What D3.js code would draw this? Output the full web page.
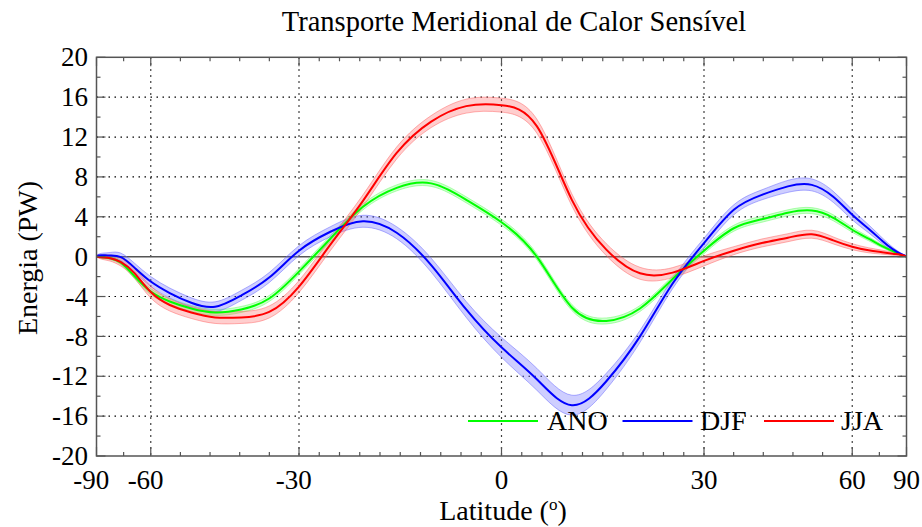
<!DOCTYPE html>
<html><head><meta charset="utf-8">
<script src="https://cdn.jsdelivr.net/npm/d3@7"></script>
<style>
body{margin:0;background:#fff}
svg{display:block}
</style>
</head><body>
<svg id="c" width="922" height="527" font-family="'Liberation Serif', 'Times New Roman', 'DejaVu Serif', serif"></svg>
<script>
// ---------------- data ----------------
const lats = [-90,-85,-80,-75,-70,-65,-60,-55,-50,-45,-40,-35,-30,-25,-20,-15,-10,-5,0,5,10,15,20,25,30,35,40,45,50,55,60,65,70,75,80,85,90];
const ano = [0,-0.02,-0.05,-0.15,-0.6,-1.95,-3.5,-4.5,-5.2,-5.6,-5.3,-4.2,-1.5,1.8,5.0,6.9,7.35,5.7,3.45,0,-5.1,-6.45,-5.2,-2.25,0.6,2.85,3.75,4.4,4.62,3.9,2.7,1.8,1.05,0.55,0.2,0.06,0];
const djf = [0,0.12,0.15,0.12,-0.05,-1.1,-2.5,-3.65,-4.63,-5.03,-3.9,-2.1,0.6,2.5,3.55,2.4,-0.85,-5.3,-9.1,-12.3,-14.9,-12.5,-8.0,-2.7,1.35,4.7,6.2,7.05,7.2,6.0,4.2,2.8,1.6,0.75,0.3,0.1,0];
const jja = [0,-0.02,-0.08,-0.15,-0.55,-1.65,-3.55,-4.85,-5.6,-6.1,-6.1,-5.55,-3.0,1.2,5.6,10.4,13.55,15.1,15.2,13.1,5.7,0.7,-1.67,-1.6,-0.43,0.6,1.37,1.9,2.25,1.63,1.0,0.64,0.45,0.3,0.2,0.08,0];
const anoErr = [0,0.05,0.1,0.15,0.2,0.25,0.3,0.3,0.3,0.3,0.3,0.3,0.3,0.3,0.3,0.3,0.3,0.3,0.3,0.3,0.3,0.3,0.3,0.3,0.3,0.3,0.3,0.3,0.3,0.3,0.25,0.2,0.15,0.1,0.05,0.03,0];
const djfErr = [0,0.1,0.2,0.3,0.4,0.45,0.5,0.5,0.5,0.5,0.5,0.5,0.5,0.5,0.6,0.6,0.7,0.8,1.0,1.1,1.0,0.8,0.6,0.5,0.5,0.5,0.5,0.6,0.6,0.55,0.5,0.4,0.3,0.2,0.1,0.05,0];
const jjaErr = [0,0.1,0.2,0.3,0.4,0.5,0.6,0.6,0.6,0.6,0.6,0.6,0.6,0.6,0.6,0.6,0.6,0.7,0.7,0.7,0.6,0.6,0.6,0.5,0.5,0.4,0.4,0.4,0.4,0.35,0.3,0.25,0.2,0.15,0.1,0.05,0];
const seriesNames = ["ANO","DJF","JJA"];
const seriesColors = ["#00ff00","#0000ff","#ff0000"];
const bandColors = ["#66ff66","#6666ff","#ff6666"];
const xMajor = [-90,-60,-30,0,30,60,90];
const xMinorDiv = [2,5,10,10,5,2];
const xLabels = ["-90","-60","-30","0","30","60","90"];
const yMajor = [-20,-16,-12,-8,-4,0,4,8,12,16,20];
const yMinor = [-18,-14,-10,-6,-2,2,6,10,14,18];
const yGrid = [-16,-12,-8,-4,4,8,12,16];
const xGrid = [-60,-30,0,30,60];
const titleText = "Transporte Meridional de Calor Sensível";

// ---------------- layout ----------------
const FF = "'Liberation Serif', 'Times New Roman', 'DejaVu Serif', serif";
const L=96.5, R=906.5, T=57.3, B=456;
const svg = d3.select("#c");
const sx = d3.scaleLinear().domain([-1,1]).range([L,R]);
const x = lat => sx(Math.sin(lat*Math.PI/180));
const y = d3.scaleLinear().domain([-20,20]).range([B,T]);

svg.append("rect").attr("width",922).attr("height",527).attr("fill","#fff");
svg.append("clipPath").attr("id","clip").append("rect")
  .attr("x",L).attr("y",T).attr("width",R-L).attr("height",B-T);

// grid
const g = svg.append("g");
g.selectAll(".gx").data(xGrid).join("line")
  .attr("x1",d=>x(d)).attr("x2",d=>x(d)).attr("y1",T).attr("y2",B)
  .attr("stroke","#000").attr("stroke-width",1.2).attr("stroke-dasharray","1.5,4.5");
g.selectAll(".gy").data(yGrid).join("line")
  .attr("x1",L).attr("x2",R).attr("y1",d=>y(d)).attr("y2",d=>y(d))
  .attr("stroke","#000").attr("stroke-width",1.2).attr("stroke-dasharray","1.5,4.5");
g.append("line").attr("x1",L).attr("x2",R).attr("y1",y(0)).attr("y2",y(0))
  .attr("stroke","#555").attr("stroke-width",1.5);

// series
const all = [ano,djf,jja], errs=[anoErr,djfErr,jjaErr];
const plot = svg.append("g").attr("clip-path","url(#clip)");
const curve = d3.curveNatural;
all.forEach((vals,i)=>{
  const pts = lats.map((lat,j)=>({lat,v:vals[j],e:errs[i][j]}));
  const area = d3.area().x(d=>x(d.lat)).y0(d=>y(d.v-d.e)).y1(d=>y(d.v+d.e)).curve(curve);
  plot.append("path").attr("d",area(pts)).attr("fill",bandColors[i]).attr("fill-opacity",0.32);
  const lo = d3.line().x(d=>x(d.lat)).y(d=>y(d.v-d.e)).curve(curve);
  const hi = d3.line().x(d=>x(d.lat)).y(d=>y(d.v+d.e)).curve(curve);
  [lo,hi].forEach(f=>plot.append("path").attr("d",f(pts)).attr("fill","none")
    .attr("stroke",bandColors[i]).attr("stroke-opacity",0.5).attr("stroke-width",1));
});
all.forEach((vals,i)=>{
  const pts = lats.map((lat,j)=>({lat,v:vals[j]}));
  const line = d3.line().x(d=>x(d.lat)).y(d=>y(d.v)).curve(curve);
  plot.append("path").attr("d",line(pts)).attr("fill","none")
    .attr("stroke",seriesColors[i]).attr("stroke-width",2);
});

// ticks
const tk = svg.append("g").attr("stroke","#555").attr("stroke-width",1.2);
const xMinor = [];
for(let k=0;k<xMajor.length-1;k++){
  const s0=Math.sin(xMajor[k]*Math.PI/180), s1=Math.sin(xMajor[k+1]*Math.PI/180);
  for(let m=1;m<xMinorDiv[k];m++) xMinor.push(s0+(s1-s0)*m/xMinorDiv[k]);
}
xMajor.forEach(d=>{
  tk.append("line").attr("x1",x(d)).attr("x2",x(d)).attr("y1",B).attr("y2",B-9);
  tk.append("line").attr("x1",x(d)).attr("x2",x(d)).attr("y1",T).attr("y2",T+9);
});
xMinor.forEach(s=>{
  tk.append("line").attr("x1",sx(s)).attr("x2",sx(s)).attr("y1",B).attr("y2",B-4);
  tk.append("line").attr("x1",sx(s)).attr("x2",sx(s)).attr("y1",T).attr("y2",T+4);
});
yMajor.forEach(d=>{
  tk.append("line").attr("x1",L).attr("x2",L+9).attr("y1",y(d)).attr("y2",y(d));
  tk.append("line").attr("x1",R).attr("x2",R-9).attr("y1",y(d)).attr("y2",y(d));
});
yMinor.forEach(d=>{
  tk.append("line").attr("x1",L).attr("x2",L+4).attr("y1",y(d)).attr("y2",y(d));
  tk.append("line").attr("x1",R).attr("x2",R-4).attr("y1",y(d)).attr("y2",y(d));
});

// frame
svg.append("rect").attr("x",L).attr("y",T).attr("width",R-L).attr("height",B-T)
  .attr("fill","none").attr("stroke","#555").attr("stroke-width",1.5);

// labels
const fs = 28, tfs = 27;
const txt = (sel)=>sel.attr("font-family",FF).attr("fill","#000");
txt(svg.selectAll(".yl").data(yMajor).join("text"))
  .attr("x",88).attr("y",d=>y(d)).attr("dy","0.34em").attr("text-anchor","end")
  .attr("font-size",tfs).text(d=>String(d));
txt(svg.selectAll(".xl").data(xMajor).join("text"))
  .attr("x",(d,i)=>x(d)).attr("y",489).attr("text-anchor","middle")
  .attr("dx",(d,i)=>xLabels[i].startsWith("-")?"-0.19em":"0")
  .attr("font-size",tfs).text((d,i)=>xLabels[i]);

const xt = txt(svg.append("text")).attr("x",503).attr("y",520).attr("text-anchor","middle").attr("font-size",fs);
xt.append("tspan").text("Latitude (");
xt.append("tspan").attr("font-size",17).attr("dy",-10).text("o");
xt.append("tspan").attr("dy",10).text(")");

txt(svg.append("text")).attr("transform","translate(37,258) rotate(-90)")
  .attr("text-anchor","middle").attr("font-size",fs).text("Energia (PW)");

txt(svg.append("text")).attr("x",514).attr("y",31).attr("text-anchor","middle")
  .attr("font-size",28.5).text(titleText);

// legend
const legX = [468,622.5,764], legTx=[547,700,841];
seriesNames.forEach((n,i)=>{
  svg.append("line").attr("x1",legX[i]).attr("x2",legX[i]+70).attr("y1",421).attr("y2",421)
    .attr("stroke",seriesColors[i]).attr("stroke-width",2);
  txt(svg.append("text")).attr("x",legTx[i]).attr("y",430).attr("font-size",fs).text(n);
});
</script>
</body></html>
